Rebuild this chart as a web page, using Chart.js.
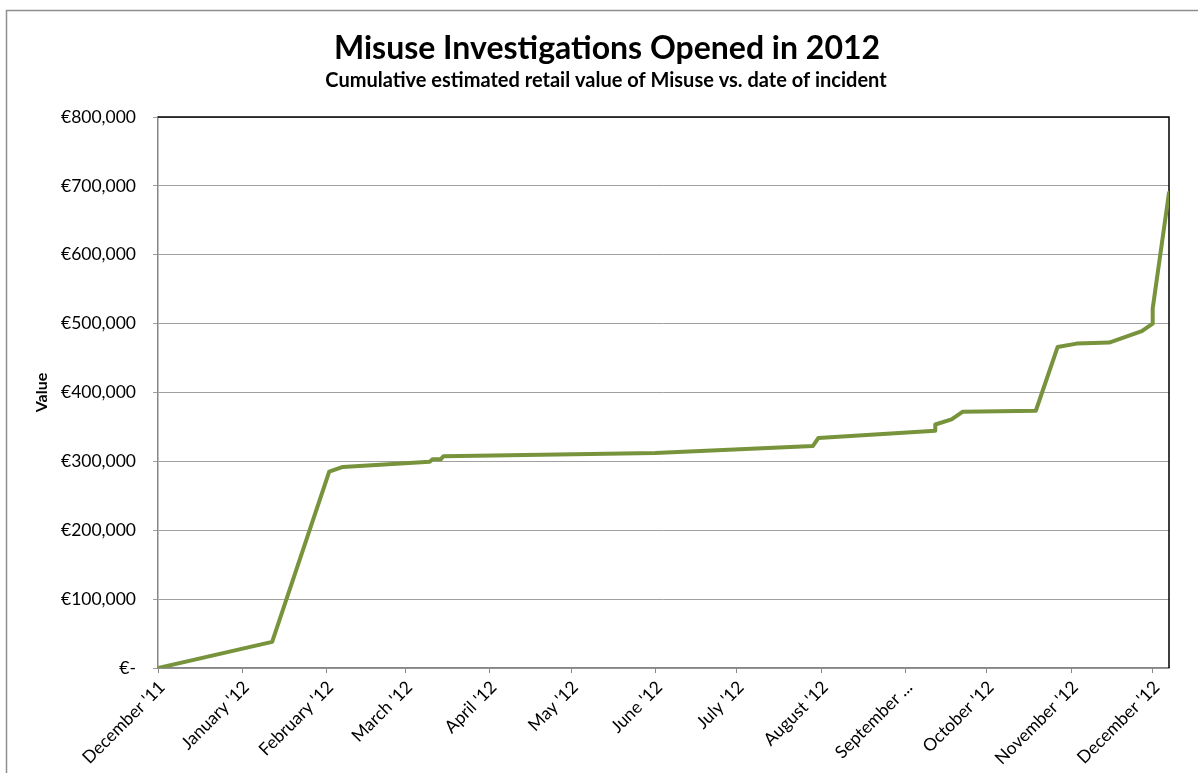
<!DOCTYPE html>
<html>
<head>
<meta charset="utf-8">
<script src="https://cdn.jsdelivr.net/npm/chart.js@4/dist/chart.umd.min.js"></script>
<style>
  html, body { margin: 0; padding: 0; background: #fff; }
</style>
</head>
<body>
<canvas id="myChart" width="1198" height="773"></canvas>
<script>
// incident dates and cumulative value (EUR)
var incidentDates = [
  '2011-12-01', '2012-01-12', '2012-02-02', '2012-02-07', '2012-03-10',
  '2012-03-11', '2012-03-14', '2012-03-15', '2012-06-01', '2012-07-29',
  '2012-07-31', '2012-09-12', '2012-09-12', '2012-09-18', '2012-09-22',
  '2012-10-19', '2012-10-27', '2012-11-03', '2012-11-15', '2012-11-27',
  '2012-12-01', '2012-12-01', '2012-12-07'
];
var cumulativeValue = [
  0, 38000, 285000, 292000, 299500,
  303000, 303000, 307500, 312000, 322500,
  334000, 344500, 353500, 361000, 372000,
  373500, 466000, 471000, 472500, 489000,
  500000, 522000, 690000
];

var monthStarts = [
  '2011-12-01', '2012-01-01', '2012-02-01', '2012-03-01', '2012-04-01',
  '2012-05-01', '2012-06-01', '2012-07-01', '2012-08-01', '2012-09-01',
  '2012-10-01', '2012-11-01', '2012-12-01'
];
var monthLabels = [
  "December '11", "January '12", "February '12", "March '12", "April '12",
  "May '12", "June '12", "July '12", "August '12", "September ...",
  "October '12", "November '12", "December '12"
];
var axisStart = '2011-12-01';
var axisEnd = '2012-12-07';

var chartTitle = 'Misuse Investigations Opened in 2012';
var chartSubtitle = 'Cumulative estimated retail value of Misuse vs. date of incident';

var FONT = 'Lato, "Open Sans", sans-serif';

function dayNum(d) {
  return (Date.parse(d) - Date.parse(axisStart)) / 86400000;
}

var points = incidentDates.map((d, i) => {
  return { x: dayNum(d), y: cumulativeValue[i] };
});

// grey frame round the whole chart, black top/right edge of the plot, titles
var frames = {
  id: 'frames',
  beforeDraw(chart) {
    let ctx = chart.ctx;
    ctx.save();
    ctx.strokeStyle = '#8e8e8e';
    ctx.lineWidth = 1.5;
    ctx.strokeRect(6.5, 10.5, 1400, 900);

    ctx.fillStyle = '#000';
    ctx.textAlign = 'center';
    ctx.textBaseline = 'alphabetic';
    ctx.font = 'bold 32px ' + FONT;
    ctx.fillText(chartTitle, 607, 59);
    ctx.font = 'bold 20px ' + FONT;
    ctx.fillText(chartSubtitle, 606, 87);
    ctx.restore();
  },
  beforeDatasetsDraw(chart) {
    let a = chart.chartArea;
    let ctx = chart.ctx;
    ctx.save();
    ctx.strokeStyle = '#000';
    ctx.lineWidth = 1.5;
    ctx.beginPath();
    ctx.moveTo(a.left, a.top);
    ctx.lineTo(a.right, a.top);
    ctx.lineTo(a.right, a.bottom);
    ctx.stroke();
    ctx.restore();
  }
};

var ctx = document.getElementById('myChart').getContext('2d');
var chartjs = new Chart(ctx, {
  type: 'line',
  data: {
    datasets: [{
      label: 'Value',
      data: points,
      borderColor: '#77933c',
      backgroundColor: '#77933c',
      borderWidth: 4,
      borderJoinStyle: 'round',
      borderCapStyle: 'round',
      pointRadius: 0,
      tension: 0,
      fill: false
    }]
  },
  options: {
    responsive: false,
    animation: false,
    layout: { padding: { top: 117, right: 29, left: 0, bottom: 0 } },
    plugins: {
      legend: { display: false },
      tooltip: { enabled: false },
      title: { display: false }
    },
    scales: {
      x: {
        type: 'linear',
        min: 0,
        max: dayNum(axisEnd),
        afterBuildTicks: (s) => {
          s.ticks = monthStarts.map((d) => ({ value: dayNum(d) }));
        },
        afterFit: (s) => { s.height = 105; },
        ticks: {
          autoSkip: false,
          minRotation: 45,
          maxRotation: 45,
          padding: 4,
          labelOffset: 4,
          color: '#000',
          font: { family: FONT, size: 17.5 },
          callback: (v, i) => monthLabels[i]
        },
        grid: { drawOnChartArea: false, color: '#868686', tickLength: 5 },
        border: { color: '#868686', width: 1.5 }
      },
      y: {
        min: 0,
        max: 800000,
        afterFit: (s) => { s.width = 158; },
        ticks: {
          stepSize: 100000,
          padding: 17,
          color: '#000',
          font: { family: FONT, size: 17.5 },
          callback: (v) => v === 0 ? '€-' : '€' + v.toLocaleString('en-US')
        },
        grid: { color: '#a0a0a0', tickLength: 5 },
        border: { color: '#868686', width: 1.5 },
        title: {
          display: true,
          text: 'Value',
          color: '#000',
          font: { family: FONT, size: 16, weight: 'bold' },
          padding: { top: 32, bottom: 0 }
        }
      }
    }
  },
  plugins: [frames]
});
</script>
</body>
</html>
